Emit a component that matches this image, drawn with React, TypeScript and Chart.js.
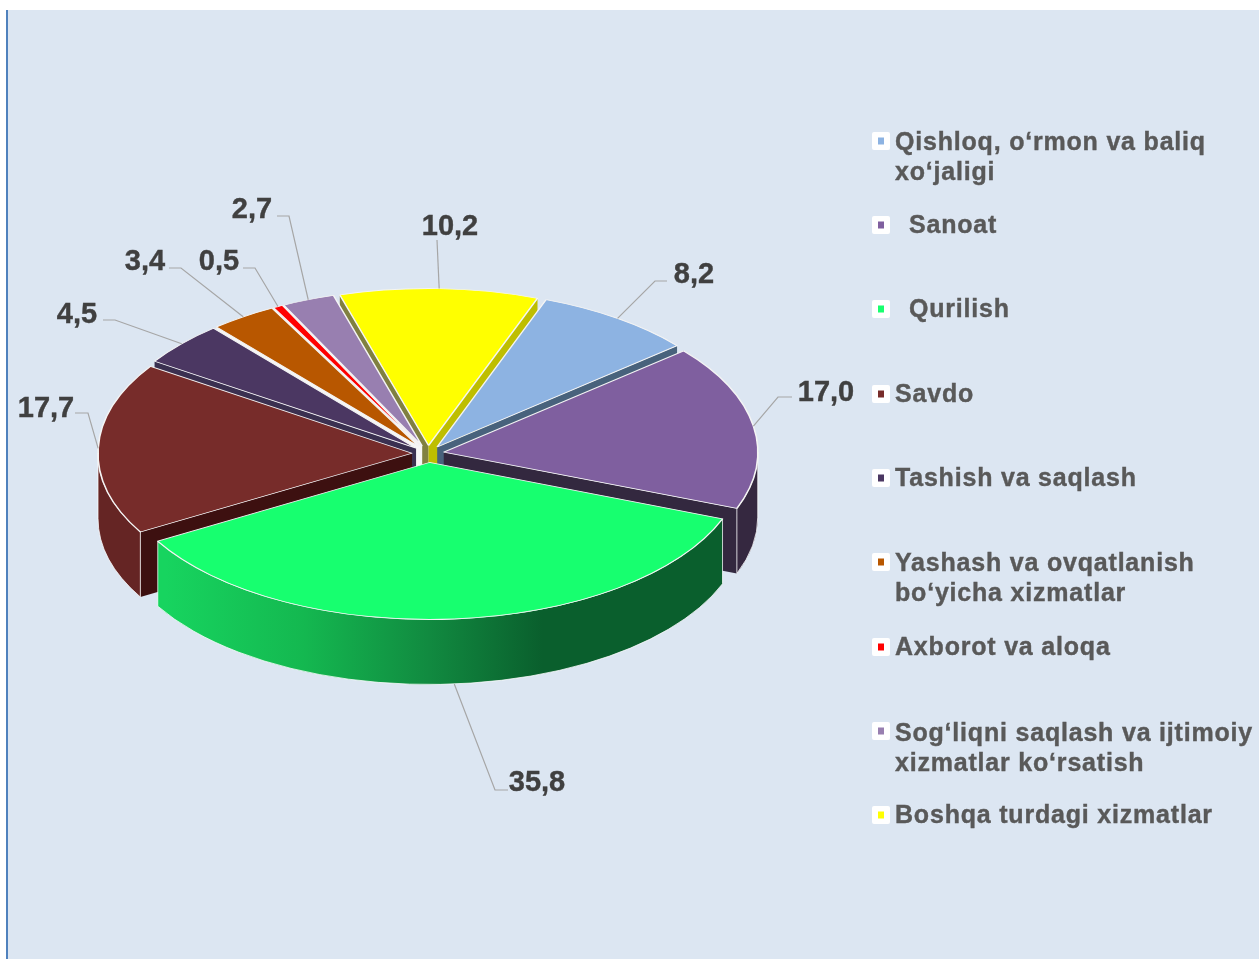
import React, { useEffect, useRef } from "react";
import { Chart, registerables } from "chart.js";

Chart.register(...registerables);

const categories = [
  "Qishloq, o‘rmon va baliq xo‘jaligi",
  "Sanoat",
  "Qurilish",
  "Savdo",
  "Tashish va saqlash",
  "Yashash va ovqatlanish bo‘yicha xizmatlar",
  "Axborot va aloqa",
  "Sog‘liqni saqlash va ijtimoiy xizmatlar ko‘rsatish",
  "Boshqa turdagi xizmatlar",
];
const values = [8.2, 17.0, 35.8, 17.7, 4.5, 3.4, 0.5, 2.7, 10.2];
const valueLabels = ["8,2", "17,0", "35,8", "17,7", "4,5", "3,4", "0,5", "2,7", "10,2"];
const topColors = ["#8DB3E2", "#7F5F9F", "#17FF6F", "#772C2A", "#4B3762", "#B85700", "#FF0000", "#987FB0", "#FFFF00"];
const wallColors = ["#5A7896", "#352840", "#0A5F2D", "#652524", "#33264A", "#7A3A00", "#A00000", "#65547A", "#BEBE00"];
const cutStartColors = ["#48627C", "#33283F", "#0A5F2D", "#3D1010", "#3A3050", "#F6F6F6", "#F6F6F6", "#F6F6F6", "#808040"];
const cutEndColors = ["#48627C", "#33283F", "#0A5F2D", "#3D1010", "#2D2040", "#F6F6F6", "#F6F6F6", "#F6F6F6", "#BEBE00"];
const explode = [16, 16, 18, 16, 16, 16, 16, 16, 16];

const legendLines = [
  { y: 143, x: 895, marker: 141, color: 0, lines: ["Qishloq, o‘rmon va baliq", "xo‘jaligi"] },
  { y: 226, x: 909, marker: 225, color: 1, lines: ["Sanoat"] },
  { y: 310, x: 909, marker: 309, color: 2, lines: ["Qurilish"] },
  { y: 395, x: 895, marker: 394, color: 3, lines: ["Savdo"] },
  { y: 479, x: 895, marker: 478, color: 4, lines: ["Tashish va saqlash"] },
  { y: 564, x: 895, marker: 562, color: 5, lines: ["Yashash va ovqatlanish", "bo‘yicha xizmatlar"] },
  { y: 648, x: 895, marker: 647, color: 6, lines: ["Axborot va aloqa"] },
  { y: 734, x: 895, marker: 731, color: 7, lines: ["Sog‘liqni saqlash va ijtimoiy", "xizmatlar ko‘rsatish"] },
  { y: 816, x: 895, marker: 815, color: 8, lines: ["Boshqa turdagi xizmatlar"] },
];

const labelLayout = [
  { tx: 694, ty: 275, path: [[667, 281], [655, 281]] },
  { tx: 826, ty: 393, path: [[792, 397], [778, 397]] },
  { tx: 537, ty: 783, path: [[508, 790], [495, 790]] },
  { tx: 46, ty: 409, path: [[75, 413], [88, 413]] },
  { tx: 77, ty: 315, path: [[103, 320], [115, 320]] },
  { tx: 145, ty: 262, path: [[169, 268], [181, 268]] },
  { tx: 219, ty: 262, path: [[243, 268], [255, 268]] },
  { tx: 252, ty: 210, path: [[277, 216], [289, 216]] },
  { tx: 450, ty: 227, path: [[437, 240]] },
];

const SQUASH = 0.5;
const DEPTH = 65;
const CY = 453.5;
const sy = (y: number) => CY + (y - CY) * SQUASH;

function geom(arc: any, i: number) {
  const p = arc.getProps(["x", "y", "startAngle", "endAngle", "outerRadius"], true);
  const off = explode[i];
  const mid = (p.startAngle + p.endAngle) / 2;
  const dx = Math.cos(mid) * off;
  const dy = Math.sin(mid) * off;
  return { cx: p.x + dx, cy: sy(p.y + dy), dx, dy, R: p.outerRadius, s: p.startAngle, e: p.endAngle, mid };
}

const pie3d = {
  id: "pie3d",
  beforeDatasetDraw(chart: any) {
    const { ctx } = chart;
    const arcs = chart.getDatasetMeta(0).data as any[];
    const order = arcs
      .map((_, i) => i)
      .sort((a, b) => Math.sin(geom(arcs[a], a).mid) - Math.sin(geom(arcs[b], b).mid));
    ctx.save();
    // pale hub seen through the gaps at the centre
    const c0 = arcs[0];
    ctx.fillStyle = "#F8F8F8";
    ctx.beginPath();
    ctx.ellipse(c0.x - 6, CY, 16, 9, 0, 0, Math.PI * 2);
    ctx.fill();
    for (const i of order) {
      const g = geom(arcs[i], i);
      const rim = (t: number) => [g.cx + Math.cos(t) * g.R, g.cy + Math.sin(t) * g.R * SQUASH];
      const faces: [number, string, boolean][] = [
        [g.s, cutStartColors[i], Math.cos(g.s) < 0],
        [g.e, cutEndColors[i], Math.cos(g.e) > 0],
      ];
      for (const [t, color, visible] of faces) {
        if (!visible) continue;
        const [x, y] = rim(t);
        ctx.beginPath();
        ctx.moveTo(g.cx, g.cy);
        ctx.lineTo(x, y);
        ctx.lineTo(x, y + DEPTH);
        ctx.lineTo(g.cx, g.cy + DEPTH);
        ctx.closePath();
        ctx.fillStyle = color;
        ctx.fill();
      }
      const a = Math.max(g.s, 0);
      const b = Math.min(g.e, Math.PI);
      if (b > a) {
        ctx.beginPath();
        ctx.ellipse(g.cx, g.cy, g.R, g.R * SQUASH, 0, a, b);
        ctx.ellipse(g.cx, g.cy + DEPTH, g.R, g.R * SQUASH, 0, b, a, true);
        ctx.closePath();
        if (categories[i] === "Qurilish") {
          const grad = ctx.createLinearGradient(g.cx - g.R, 0, g.cx + g.R, 0);
          grad.addColorStop(0.08, "#17D45F");
          grad.addColorStop(0.3, "#14B850");
          grad.addColorStop(0.5, "#118A40");
          grad.addColorStop(0.68, "#0A5F2D");
          grad.addColorStop(1, "#0A5F2D");
          ctx.fillStyle = grad;
        } else {
          ctx.fillStyle = wallColors[i];
        }
        ctx.fill();
        ctx.strokeStyle = "rgba(255,255,255,0.75)";
        ctx.lineWidth = 1;
        ctx.stroke();
      }
    }
    ctx.restore();
    // top faces, drawn by the library's own arc elements on a flattened plane
    ctx.save();
    ctx.translate(0, CY);
    ctx.scale(1, SQUASH);
    ctx.translate(0, -CY);
    arcs.forEach((arc, i) => {
      const g = geom(arc, i);
      ctx.save();
      ctx.translate(g.dx, g.dy);
      arc.draw(ctx);
      ctx.restore();
    });
    ctx.restore();
    return false;
  },
  afterDatasetsDraw(chart: any) {
    const { ctx } = chart;
    const arcs = chart.getDatasetMeta(0).data as any[];
    ctx.save();
    arcs.forEach((arc, i) => {
      const g = geom(arc, i);
      const l = labelLayout[i];
      const front = categories[i] === "Qurilish";
      const ex = g.cx + Math.cos(g.mid) * g.R;
      const ey = g.cy + Math.sin(g.mid) * g.R * SQUASH + (front ? DEPTH : 0);
      ctx.beginPath();
      l.path.forEach(([x, y], k) => (k ? ctx.lineTo(x, y) : ctx.moveTo(x, y)));
      ctx.lineTo(ex, ey);
      ctx.strokeStyle = "#A6A6A6";
      ctx.lineWidth = 1.2;
      ctx.stroke();
      ctx.font = "bold 29px 'Liberation Sans'";
      ctx.fillStyle = "#404040";
      ctx.strokeStyle = "#404040";
      ctx.lineWidth = 0.4;
      ctx.textAlign = "center";
      ctx.textBaseline = "middle";
      ctx.fillText(valueLabels[i], l.tx, l.ty);
      ctx.strokeText(valueLabels[i], l.tx, l.ty);
    });
    legendLines.forEach((e) => {
      ctx.fillStyle = "#FFFFFF";
      ctx.beginPath();
      ctx.roundRect(872, e.marker - 9, 18, 18, 2);
      ctx.fill();
      ctx.fillStyle = topColors[e.color];
      ctx.fillRect(878, e.marker - 3.5, 6, 7);
      ctx.font = "bold 25px 'Liberation Sans'";
      ctx.fillStyle = "#595959";
      ctx.strokeStyle = "#595959";
      ctx.lineWidth = 0.4;
      ctx.textAlign = "left";
      ctx.textBaseline = "middle";
      (ctx as any).letterSpacing = "0.8px";
      e.lines.forEach((line, k) => {
        ctx.fillText(line, e.x, e.y + k * 30);
        ctx.strokeText(line, e.x, e.y + k * 30);
      });
      (ctx as any).letterSpacing = "0px";
    });
    ctx.restore();
  },
};

export default function App() {
  const ref = useRef<HTMLCanvasElement>(null);
  useEffect(() => {
    const chart = new Chart(ref.current as HTMLCanvasElement, {
      type: "pie",
      data: {
        labels: categories,
        datasets: [
          {
            data: values,
            backgroundColor: topColors,
            borderColor: "#F4F4F4",
            borderWidth: 1.6,
            radius: 314,
            clip: false,
          } as any,
        ],
      },
      options: {
        responsive: false,
        animation: false,
        rotation: 20.3,
        events: [],
        layout: { padding: { left: 0, right: 403, top: CY - 428, bottom: 959 - CY - 428 } },
        plugins: { legend: { display: false }, tooltip: { enabled: false }, title: { display: false } },
      },
      plugins: [pie3d],
    });
    return () => chart.destroy();
  }, []);
  return (
    <div style={{ position: "fixed", inset: 0, background: "#FFFFFF", overflow: "hidden" }}>
      <div
        style={{
          position: "absolute",
          left: 6,
          top: 10,
          right: 0,
          bottom: 0,
          background: "#DCE6F2",
          borderLeft: "2px solid #4F81BD",
        }}
      />
      <canvas ref={ref} width={1259} height={959} style={{ position: "absolute", left: 0, top: 0, display: "block" }} />
    </div>
  );
}
